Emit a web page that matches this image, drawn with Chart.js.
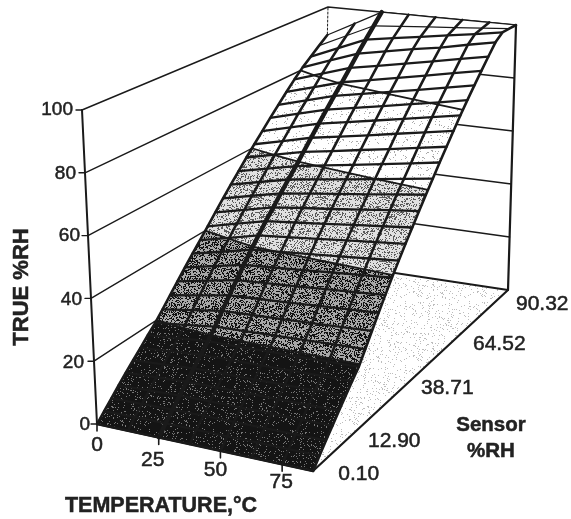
<!DOCTYPE html>
<html>
<head>
<meta charset="utf-8">
<style>
  html, body { margin: 0; background: #fff; }
  canvas { display: block; }
</style>
<script src="https://cdn.jsdelivr.net/npm/chart.js@4/dist/chart.umd.min.js"></script>
</head>
<body>
<canvas id="surfaceChart" width="571" height="519"></canvas>
<script>
// axis ticks
const temperatureTicks = [0, 25, 50, 75];
const sensorTicks = [0.10, 12.90, 38.71, 64.52, 90.32];
const sensorTickLabels = ['0.10', '12.90', '38.71', '64.52', '90.32'];
const trueRhTicks = [0, 20, 40, 60, 80, 100];

// grid of the surface
const temperatureGrid = [0, 12.5, 25, 37.5, 50, 62.5, 75, 87.5];
const sensorGrid = [0.10, 3.23, 6.45, 9.68, 12.90, 16.13, 19.35, 22.58, 25.81, 29.03, 32.26, 35.48, 38.71, 41.94, 45.16, 48.39,
  51.61, 54.84, 58.06, 61.29, 64.52, 67.74, 70.97, 74.19, 77.42, 80.65, 83.87, 87.10, 90.32, 93.55, 96.77];

// true %RH per sensor row, one list per temperature
const rhAt0 = [0, 2.4, 4.8, 7.3, 9.7, 12.1, 14.5, 17.0, 19.4, 22.3, 25.4, 28.5, 31.6, 34.7, 37.8, 41.0, 44.3, 47.7, 51.0, 54.3, 57.7, 61.0, 64.3, 67.7, 71.0, 74.4, 77.7, 80.8, 83.5, 86.3, 89.0];
const rhAt12 = [0, 2.6, 5.1, 7.7, 10.2, 12.7, 15.3, 17.9, 20.6, 23.8, 27.1, 30.4, 33.7, 37.0, 40.2, 43.5, 46.7, 50.1, 53.4, 56.6, 60.1, 63.5, 67.0, 70.5, 73.9, 77.4, 81.0, 84.6, 87.9, 91.2, 94.5];
const rhAt25 = [0, 2.7, 5.3, 8.0, 10.7, 13.3, 16.0, 18.7, 21.8, 25.3, 28.8, 32.3, 35.8, 39.3, 42.6, 45.9, 49.1, 52.4, 55.7, 58.9, 62.4, 66.0, 69.6, 73.2, 76.8, 80.4, 84.3, 88.3, 92.2, 96.1, 100];
const rhAt37 = [0, 2.7, 5.4, 8.1, 10.8, 13.4, 16.1, 18.8, 22.1, 25.7, 29.3, 32.9, 36.5, 40.1, 43.5, 46.9, 50.3, 53.7, 57.1, 60.5, 64.0, 67.7, 71.4, 75.1, 78.7, 82.3, 86.2, 90.2, 93.8, 96.9, 100];
const rhAt50 = [0, 2.7, 5.4, 8.1, 10.9, 13.5, 16.3, 19.0, 22.4, 26.1, 29.8, 33.5, 37.2, 40.9, 44.4, 47.9, 51.4, 55.0, 58.5, 62.0, 65.7, 69.4, 73.2, 76.9, 80.6, 84.3, 88.1, 92.1, 95.3, 97.7, 100];
const rhAt62 = [0, 2.8, 5.5, 8.2, 10.9, 13.7, 16.4, 19.1, 22.7, 26.5, 30.4, 34.2, 38.0, 41.7, 45.4, 49.0, 52.6, 56.2, 59.9, 63.6, 67.3, 71.2, 75.0, 78.8, 82.5, 86.2, 90.0, 93.7, 96.9, 98.4, 100];
const rhAt75 = [0, 2.8, 5.5, 8.2, 11.0, 13.8, 16.6, 19.3, 23.0, 26.9, 30.9, 34.8, 38.7, 42.5, 46.3, 50.0, 53.8, 57.6, 61.3, 65.1, 69.0, 72.9, 76.8, 80.6, 84.4, 88.2, 92.0, 95.8, 98.4, 99.2, 100];
const rhAt87 = [0, 2.8, 5.6, 8.3, 11.1, 13.9, 16.7, 19.4, 23.3, 27.3, 31.4, 35.4, 39.4, 43.3, 47.2, 51.0, 54.9, 58.8, 62.7, 66.7, 70.6, 74.6, 78.6, 82.5, 86.3, 90.1, 93.9, 97.7, 100, 100, 100];
const rhColumns = [rhAt0, rhAt12, rhAt25, rhAt37, rhAt50, rhAt62, rhAt75, rhAt87];

const contourLevels = [20, 40, 60, 80];
const bandEdges = [0, 20, 40, 60, 80, 100.01];

// where the eight corners of the plot box land on the page
const box = {
  floor: { a: [97, 424], b: [313, 471], c: [508, 290], d: [322, 262] },
  top: { a: [82, 110], b: [312, 136], c: [516, 25], d: [328, 7] }
};
const tMax = 87.5, sMax = 96.77;

function lerp(p, q, k) { return [p[0] + (q[0] - p[0]) * k, p[1] + (q[1] - p[1]) * k]; }
function project(t, s, rh) {
  const u = t / tMax, v = s / sMax, w = rh / 100;
  const low = lerp(lerp(box.floor.a, box.floor.b, u), lerp(box.floor.d, box.floor.c, u), v);
  const high = lerp(lerp(box.top.a, box.top.b, u), lerp(box.top.d, box.top.c, u), v);
  const p = lerp(low, high, w);
  return { x: p[0], y: p[1] };
}

// speckled fills, the source is a scanned halftone
function speckle(base, dot, density) {
  const tile = document.createElement('canvas');
  tile.width = tile.height = 64;
  const c = tile.getContext('2d');
  c.fillStyle = base;
  c.fillRect(0, 0, 64, 64);
  c.fillStyle = dot;
  for (let y = 0; y < 64; y++) {
    for (let x = 0; x < 64; x++) {
      const n = Math.sin(x * 12.9898 + y * 78.233) * 43758.5453;
      if (n - Math.floor(n) < density) c.fillRect(x, y, 1, 1);
    }
  }
  return c.createPattern(tile, 'repeat');
}
const bandFills = [
  speckle('#141414', '#777777', 0.1),
  speckle('#a8a8a8', '#111111', 0.4),
  speckle('#e0e0e0', '#5a5a5a', 0.28),
  speckle('#ffffff', '#aaaaaa', 0.06),
  '#ffffff'
];
const floorFill = speckle('#ffffff', '#bdbdbd', 0.08);

// keep the part of a cell on one side of an rh level
function clipCell(poly, level, above) {
  const out = [];
  for (let i = 0; i < poly.length; i++) {
    const p = poly[i], q = poly[(i + 1) % poly.length];
    const pIn = above ? p.r >= level : p.r <= level;
    const qIn = above ? q.r >= level : q.r <= level;
    if (pIn) out.push(p);
    if (pIn !== qIn) {
      const k = (level - p.r) / (q.r - p.r);
      out.push({ t: p.t + (q.t - p.t) * k, s: p.s + (q.s - p.s) * k, r: level });
    }
  }
  return out;
}

const datasets = [];
function addLine(points, color, width, dash) {
  datasets.push({ data: points, showLine: true, fill: false, borderColor: color, borderWidth: width, borderDash: dash || [], pointRadius: 0, borderCapStyle: 'round', borderJoinStyle: 'round' });
}
function addShape(points, fillStyle) {
  datasets.push({ data: points.concat([points[0]]), showLine: true, fill: 'shape', backgroundColor: fillStyle, borderWidth: 0, borderColor: 'transparent', pointRadius: 0 });
}

const ink = '#1a1a1a';

// floor
addShape([project(0, 0, 0), project(tMax, 0, 0), project(tMax, sMax, 0), project(0, sMax, 0)], floorFill);

// walls
trueRhTicks.forEach(rh => {
  addLine([project(0, 0, rh), project(0, sMax, rh), project(tMax, sMax, rh)], ink, rh === 0 ? 1.8 : 1.4);
});
addLine([project(0, sMax, 0), project(0, sMax, 100)], ink, 1, [2, 2]);
addLine([project(tMax, sMax, 0), project(tMax, sMax, 100)], ink, 2.2);
addLine([project(0, 0, 0), project(0, 0, 100)], ink, 2);

// surface cells, cut at the shading levels
for (let i = 0; i < temperatureGrid.length - 1; i++) {
  for (let j = sensorGrid.length - 2; j >= 0; j--) {
    const cell = [
      { t: temperatureGrid[i], s: sensorGrid[j], r: rhColumns[i][j] },
      { t: temperatureGrid[i + 1], s: sensorGrid[j], r: rhColumns[i + 1][j] },
      { t: temperatureGrid[i + 1], s: sensorGrid[j + 1], r: rhColumns[i + 1][j + 1] },
      { t: temperatureGrid[i], s: sensorGrid[j + 1], r: rhColumns[i][j + 1] }
    ];
    for (let b = 0; b < bandFills.length; b++) {
      let part = clipCell(cell, bandEdges[b], true);
      if (part.length) part = clipCell(part, bandEdges[b + 1], false);
      if (part.length > 2) addShape(part.map(v => project(v.t, v.s, v.r)), bandFills[b]);
    }
  }
}

// mesh
sensorGrid.forEach((s, j) => {
  addLine(temperatureGrid.map((t, i) => project(t, s, rhColumns[i][j])), ink, j >= 29 ? 1.2 : 2.3);
});
temperatureGrid.forEach((t, i) => {
  addLine(sensorGrid.map((s, j) => project(t, s, rhColumns[i][j])), ink, t === 25 ? 4.4 : 2.6);
});

// contours where the shading changes
contourLevels.forEach(level => {
  const pts = [];
  temperatureGrid.forEach((t, i) => {
    const col = rhColumns[i];
    for (let j = 0; j < col.length - 1; j++) {
      if (col[j] <= level && col[j + 1] > level) {
        const k = (level - col[j]) / (col[j + 1] - col[j]);
        pts.push(project(t, sensorGrid[j] + (sensorGrid[j + 1] - sensorGrid[j]) * k, level));
        break;
      }
    }
  });
  addLine(pts, ink, 1.8);
});

// front edges and tick marks
addLine([project(0, 0, 0), project(tMax, 0, 0)], ink, 2.4);
addLine([project(tMax, 0, 0), project(tMax, sMax, 0)], ink, 2.2);
temperatureTicks.forEach(t => {
  const p = project(t, 0, 0);
  addLine([p, { x: p.x, y: p.y + 7 }], ink, 1.6);
});
trueRhTicks.forEach(rh => {
  const p = project(0, 0, rh);
  addLine([p, { x: p.x - 6, y: p.y }], ink, 1.4);
});

// later entries paint on top
datasets.forEach((d, i) => { d.order = datasets.length - i; });

// label nudges from the tick's point on the box
const temperatureNudge = [[0, 21], [-6, 23], [-5, 19], [-1, 18]];
const rhNudge = [[-7, 1], [-10, 2], [-9, 1], [-8, 0], [-9, 1], [-9, 0]];
const sensorNudge = [[25, 3], [29, -6], [30, -10], [30, -6], [21, 2]];

const boxLabels = {
  id: 'boxLabels',
  afterDraw(chart) {
    const { ctx, scales: { x, y } } = chart;
    const at = p => [x.getPixelForValue(p.x), y.getPixelForValue(p.y)];
    // scanned type comes out a bit heavier than the font
    const put = (text, px, py) => { ctx.fillText(text, px, py); ctx.strokeText(text, px, py); };
    ctx.save();
    ctx.fillStyle = '#222';
    ctx.strokeStyle = '#222';
    ctx.lineWidth = 0.5;
    ctx.textBaseline = 'middle';

    ctx.font = '19px "Liberation Sans"';
    ctx.textAlign = 'right';
    trueRhTicks.forEach((rh, i) => {
      const [px, py] = at(project(0, 0, rh));
      put(String(rh), px + rhNudge[i][0], py + rhNudge[i][1]);
    });

    ctx.font = '21px "Liberation Sans"';
    ctx.textAlign = 'center';
    temperatureTicks.forEach((t, i) => {
      const [px, py] = at(project(t, 0, 0));
      put(String(t), px + temperatureNudge[i][0], py + temperatureNudge[i][1]);
    });

    ctx.textAlign = 'left';
    sensorTicks.forEach((s, i) => {
      const [px, py] = at(project(tMax, s, 0));
      put(sensorTickLabels[i], px + sensorNudge[i][0], py + sensorNudge[i][1]);
    });

    ctx.font = 'bold 21.5px "Liberation Sans"';
    ctx.textAlign = 'center';
    put('TEMPERATURE,°C', 161, 506);
    ctx.font = 'bold 20.5px "Liberation Sans"';
    put('Sensor', 491, 425);
    put('%RH', 491, 451);
    ctx.translate(22, 287);
    ctx.rotate(-Math.PI / 2);
    ctx.font = 'bold 22px "Liberation Sans"';
    put('TRUE %RH', 0, 0);
    ctx.restore();
  }
};

new Chart(document.getElementById('surfaceChart').getContext('2d'), {
  type: 'scatter',
  data: { datasets: datasets },
  plugins: [boxLabels],
  options: {
    responsive: false,
    animation: false,
    events: [],
    layout: { padding: 0 },
    elements: { point: { radius: 0 }, line: { tension: 0 } },
    plugins: { legend: { display: false }, tooltip: { enabled: false } },
    scales: {
      x: { type: 'linear', display: false, min: 0, max: 571 },
      y: { type: 'linear', display: false, min: 0, max: 519, reverse: true }
    }
  }
});
</script>
</body>
</html>
